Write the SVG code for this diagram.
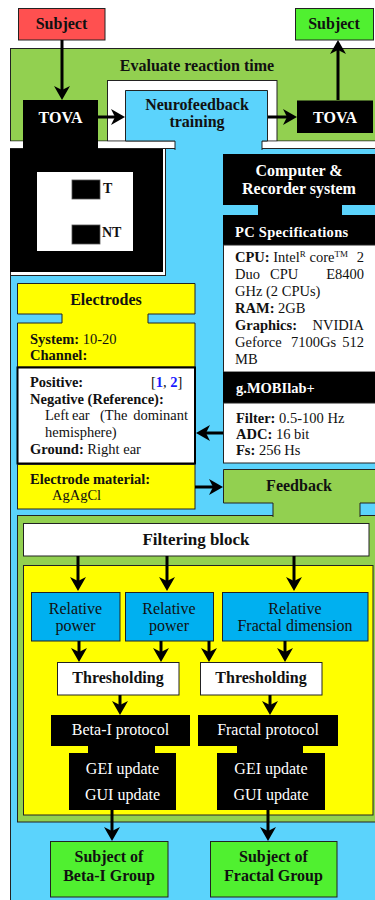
<svg xmlns="http://www.w3.org/2000/svg" width="375" height="900" viewBox="0 0 375 900">
<defs>
<marker id="ah" viewBox="0 0 14 16" refX="10" refY="8" markerWidth="14" markerHeight="16" markerUnits="userSpaceOnUse" orient="auto"><path d="M0,0 L14,8 L0,16 L4,8 Z" fill="#000"/></marker>
<style>
text{font-family:"Liberation Serif","Times New Roman",serif;fill:#111}
.b{font-weight:bold}
.w{fill:#fff}
.m{text-anchor:middle}
.e{text-anchor:end}
.f16{font-size:16px}
.f14{font-size:14.5px}
.ln{stroke:#222;stroke-width:1}
.c{stroke:#000;stroke-width:3;fill:none;marker-end:url(#ah)}
.lb{fill:#5bd3fc}
.gr{fill:#92d050}
.bl{fill:#00b0f0}
.ye{fill:#ffff00}
.wh{fill:#fff}
.bk{fill:#000}
</style>
</defs>
<rect width="375" height="900" fill="#fff"/>

<g id="evaluate">
<rect x="10.5" y="48.5" width="370" height="92.5" class="gr ln"/>
<text x="197" y="71" class="b m f16">Evaluate reaction time</text>
<rect x="107.5" y="80.5" width="169.5" height="60.5" class="wh ln"/>
<rect x="10" y="141.5" width="370" height="7" class="wh"/>
</g>

<g id="main-region">
<rect x="10.5" y="148.5" width="370" height="760" class="lb ln"/>
</g>

<g id="tova-display">
<rect x="10.5" y="148.5" width="155" height="127" class="wh ln"/>
<rect x="10" y="149" width="153" height="123" class="bk"/>
<rect x="37" y="172" width="96" height="79" class="wh"/>
<rect x="72" y="180" width="28" height="19" class="bk" stroke="#555" stroke-width="0.8"/>
<rect x="72" y="225" width="28" height="19" class="bk" stroke="#555" stroke-width="0.8"/>
<text x="103" y="193" class="b" font-size="14">T</text>
<text x="102" y="237" class="b" font-size="14">NT</text>
</g>

<g id="subject-start">
<rect x="18.5" y="8.5" width="86.5" height="31.5" fill="#ff5050" class="ln"/>
<text x="61.5" y="29" class="b m f16">Subject</text>
</g>

<g id="subject-end">
<rect x="295.5" y="8.5" width="78" height="31.5" fill="#50f030" class="ln"/>
<text x="334" y="29" class="b m f16">Subject</text>
</g>

<g id="tova-left">
<rect x="23" y="100" width="75" height="50" class="bk"/>
<text x="60.5" y="123" class="b m f16 w">TOVA</text>
</g>

<g id="tova-right">
<rect x="297" y="100.5" width="76" height="32.5" class="bk"/>
<text x="335" y="123" class="b m f16 w">TOVA</text>
</g>

<g id="neurofeedback">
<path d="M125,90 H268 V141 H262 V150 H175 V141 H125 Z" class="lb"/>
<path d="M175,150 V141 H125.5 V90.5 H267.5 V141 H262 V150" fill="none" class="ln"/>
<text x="197" y="110" class="b m f16">Neurofeedback</text>
<text x="197" y="127" class="b m f16">training</text>
</g>

<g id="computer">
<path d="M223,154 H376 V205 H342 V215 H376 V245 H223 V215 H258 V205 H223 Z" class="bk"/>
<text x="299" y="176" class="b m f16 w">Computer &amp;</text>
<text x="299" y="194" class="b m f16 w">Recorder system</text>
<text x="235" y="237" class="b w" font-size="14.5" letter-spacing="0.3">PC Specifications</text>
<rect x="223.5" y="245" width="153" height="127" class="wh ln"/>
<text x="235" y="262" class="f14"><tspan class="b">CPU:</tspan> Intel<tspan font-size="9" dy="-5">R</tspan><tspan dy="5"> core</tspan><tspan font-size="9" dy="-5">TM</tspan></text>
<text x="364" y="262" class="f14 e">2</text>
<text x="235" y="279" class="f14">Duo</text>
<text x="270" y="279" class="f14">CPU</text>
<text x="364" y="279" class="f14 e">E8400</text>
<text x="235" y="296" class="f14">GHz (2 CPUs)</text>
<text x="235" y="313" class="f14"><tspan class="b">RAM:</tspan> 2GB</text>
<text x="235" y="330" class="f14 b">Graphics:</text>
<text x="364" y="330" class="f14 e">NVIDIA</text>
<text x="235" y="347" class="f14">Geforce</text>
<text x="291" y="347" class="f14">7100Gs</text>
<text x="364" y="347" class="f14 e">512</text>
<text x="235" y="364" class="f14">MB</text>
<rect x="223" y="372" width="153" height="31" class="bk"/>
<text x="236" y="393" class="b w f14">g.MOBIlab+</text>
<rect x="223.5" y="403" width="153" height="60" class="wh ln"/>
<text x="236" y="423" class="f14"><tspan class="b">Filter:</tspan> 0.5-100 Hz</text>
<text x="236" y="439" class="f14"><tspan class="b">ADC:</tspan> 16 bit</text>
<text x="236" y="455" class="f14"><tspan class="b">Fs:</tspan> 256 Hs</text>
</g>

<g id="electrodes">
<path d="M17.5,283.5 H195 V314 H148 V323 H195 V367 H17.5 V323 H62 V314 H17.5 Z" class="ye ln"/>
<text x="106" y="305" class="b m f16">Electrodes</text>
<text x="30" y="344" class="f14"><tspan class="b">System:</tspan> 10-20</text>
<text x="30" y="360" class="f14 b">Channel:</text>
<rect x="17.5" y="367.5" width="177.5" height="96" class="wh" stroke="#000" stroke-width="2"/>
<text x="30" y="387" class="f14 b">Positive:</text>
<text x="151" y="387" class="f14">[<tspan class="b" fill="#1a1aff">1</tspan>, <tspan class="b" fill="#1a1aff">2</tspan>]</text>
<text x="30" y="404" class="f14 b">Negative (Reference):</text>
<text x="45" y="420" class="f14">Left</text>
<text x="72" y="420" class="f14">ear</text>
<text x="100" y="420" class="f14">(The</text>
<text x="188" y="420" class="f14 e">dominant</text>
<text x="45" y="437" class="f14">hemisphere)</text>
<text x="30" y="454" class="f14"><tspan class="b">Ground:</tspan> Right ear</text>
<rect x="17.5" y="464.5" width="177.5" height="44.5" class="ye ln"/>
<text x="30" y="484" class="f14 b">Electrode material:</text>
<text x="52" y="500" class="f14">AgAgCl</text>
</g>

<g id="processing">
<rect x="17.5" y="515.5" width="360" height="306.5" class="gr ln"/>
<rect x="23.5" y="565.5" width="349.5" height="249.5" class="ye ln"/>
</g>

<g id="feedback">
<path d="M223,469 H377 V503 H360 V517 H273 V503 H223 Z" class="gr"/>
<path d="M273,517 V503 H223.5 V469.5 H377 M377,503 H360 V517" fill="none" class="ln"/>
<text x="299" y="491" class="b m f16">Feedback</text>
</g>

<g id="filtering">
<rect x="23.5" y="523.5" width="345.5" height="32.5" class="wh ln"/>
<text x="196" y="545" class="b m" font-size="17">Filtering block</text>
</g>

<g id="relpower1">
<rect x="31.5" y="592.5" width="88.5" height="48.5" class="bl ln"/>
<text x="75.5" y="614" class="m f16">Relative</text>
<text x="75.5" y="631" class="m f16">power</text>
</g>
<g id="relpower2">
<rect x="125.5" y="592.5" width="88" height="48.5" class="bl ln"/>
<text x="169" y="614" class="m f16">Relative</text>
<text x="169" y="631" class="m f16">power</text>
</g>
<g id="relfractal">
<rect x="222.5" y="592.5" width="145.5" height="48.5" class="bl ln"/>
<text x="295" y="614" class="m f16">Relative</text>
<text x="295" y="631" class="m f16">Fractal dimension</text>
</g>

<g id="threshold1">
<rect x="57.5" y="662.5" width="121.5" height="32.5" class="wh ln"/>
<text x="118" y="683" class="b m f16">Thresholding</text>
</g>
<g id="threshold2">
<rect x="200.5" y="662.5" width="121.5" height="32.5" class="wh ln"/>
<text x="261" y="683" class="b m f16">Thresholding</text>
</g>

<g id="beta-protocol">
<path d="M51,715 H190 V746 H155 V753 H176 V810 H69 V753 H88 V746 H51 Z" class="bk"/>
<text x="120.5" y="735" class="m f16 w">Beta-I protocol</text>
<text x="122.5" y="774" class="m f16 w">GEI update</text>
<text x="122.5" y="800" class="m f16 w">GUI update</text>
</g>
<g id="fractal-protocol">
<path d="M198,715 H338 V746 H303 V753 H325 V810 H217 V753 H237 V746 H198 Z" class="bk"/>
<text x="268" y="735" class="m f16 w">Fractal protocol</text>
<text x="271" y="774" class="m f16 w">GEI update</text>
<text x="271" y="800" class="m f16 w">GUI update</text>
</g>

<g id="subject-beta">
<rect x="50.5" y="841.5" width="117.5" height="55.5" fill="#50f030" class="ln"/>
<text x="109" y="862" class="b m f16">Subject of</text>
<text x="109" y="881" class="b m f16">Beta-I Group</text>
</g>
<g id="subject-fractal">
<rect x="210.5" y="841.5" width="126.5" height="55.5" fill="#50f030" class="ln"/>
<text x="273.5" y="862" class="b m f16">Subject of</text>
<text x="273.5" y="881" class="b m f16">Fractal Group</text>
</g>

<g id="connectors">
<path class="c" d="M62,40 V96"/>
<path class="c" d="M98,117 H121"/>
<path class="c" d="M268,117 H293"/>
<path class="c" d="M338,100 V44"/>
<path class="c" d="M223,433 H200"/>
<path class="c" d="M195,487 H219"/>
<path class="c" d="M78,556 V587"/>
<path class="c" d="M167,556 V587"/>
<path class="c" d="M294,556 V587"/>
<path class="c" d="M79,641 V658"/>
<path class="c" d="M161,641 V658"/>
<path class="c" d="M209,641 V658"/>
<path class="c" d="M285,641 V658"/>
<path class="c" d="M120,695 V711"/>
<path class="c" d="M270,695 V711"/>
<path class="c" d="M112,810 V837"/>
<path class="c" d="M268,810 V837"/>
</g>
</svg>
